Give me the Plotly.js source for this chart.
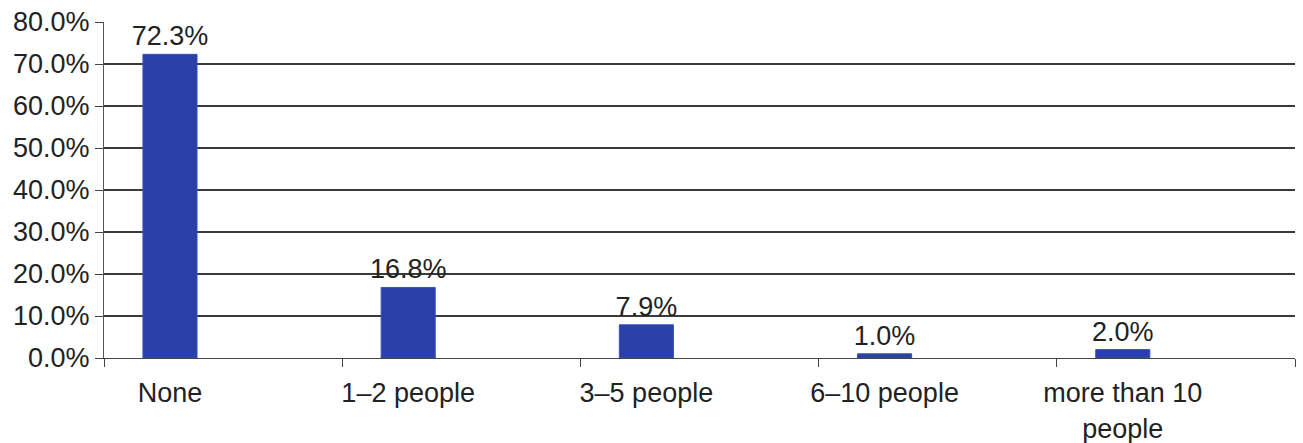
<!DOCTYPE html>
<html><head><meta charset="utf-8">
<script src="https://cdn.plot.ly/plotly-3.0.1.min.js"></script>
<style>html,body{margin:0;padding:0;background:#fff}#chart{width:1303px;height:443px}</style>
</head><body><div id="chart"></div>
<script>
const categories = ["None", "1–2 people", "3–5 people", "6–10 people", "more than 10<br>people"];
const values = [72.3, 16.8, 7.9, 1.0, 2.0];
const labels = ["72.3%", "16.8%", "7.9%", "1.0%", "2.0%"];
const yTickVals = [0, 10, 20, 30, 40, 50, 60, 70, 80];
const yTickText = ["0.0%", "10.0%", "20.0%", "30.0%", "40.0%", "50.0%", "60.0%", "70.0%", "80.0%"];
const boundaries = [0, 1, 2, 3, 4, 5];

const font = {family: "Liberation Sans, Arial, sans-serif", size: 27, color: "#222"};
const shift = 0.223;
Plotly.newPlot("chart", [{
  type: "scatter", mode: "none", x: boundaries, y: boundaries.map(() => 0),
  xaxis: "x", yaxis: "y", hoverinfo: "none", showlegend: false
}, {
  type: "bar", x: categories, y: values, text: labels, xaxis: "x2", yaxis: "y",
  textposition: "outside", constraintext: "none", textfont: font, cliponaxis: false,
  marker: {color: "#2b40a6", line: {color: "#3550c0", width: 1}},
  hoverinfo: "none"
}], {
  width: 1303, height: 443,
  margin: {l: 104, r: 8, t: 22, b: 85},
  paper_bgcolor: "#fff", plot_bgcolor: "#fff",
  bargap: 0.773, showlegend: false, font: font,
  xaxis: {type: "linear", range: [0, 5], tickvals: boundaries, showticklabels: false,
    ticks: "outside", ticklen: 8, tickcolor: "#444",
    showline: true, linecolor: "#444", linewidth: 1, showgrid: false, zeroline: false, fixedrange: true},
  xaxis2: {type: "category", overlaying: "x", anchor: "y", side: "bottom",
    range: [-0.5 + shift, categories.length - 0.5 + shift],
    ticks: "outside", ticklen: 11, tickcolor: "rgba(0,0,0,0)",
    showline: false, showgrid: false, tickfont: font, fixedrange: true},
  yaxis: {range: [0, 80], tickvals: yTickVals, ticktext: yTickText, ticks: "outside", ticklen: 8,
    tickcolor: "#444", showline: true, linecolor: "#555", linewidth: 1,
    showgrid: true, gridcolor: "#3a3a3a", gridwidth: 1.2, zeroline: false, tickfont: font, fixedrange: true}
}, {staticPlot: true});
</script></body></html>
